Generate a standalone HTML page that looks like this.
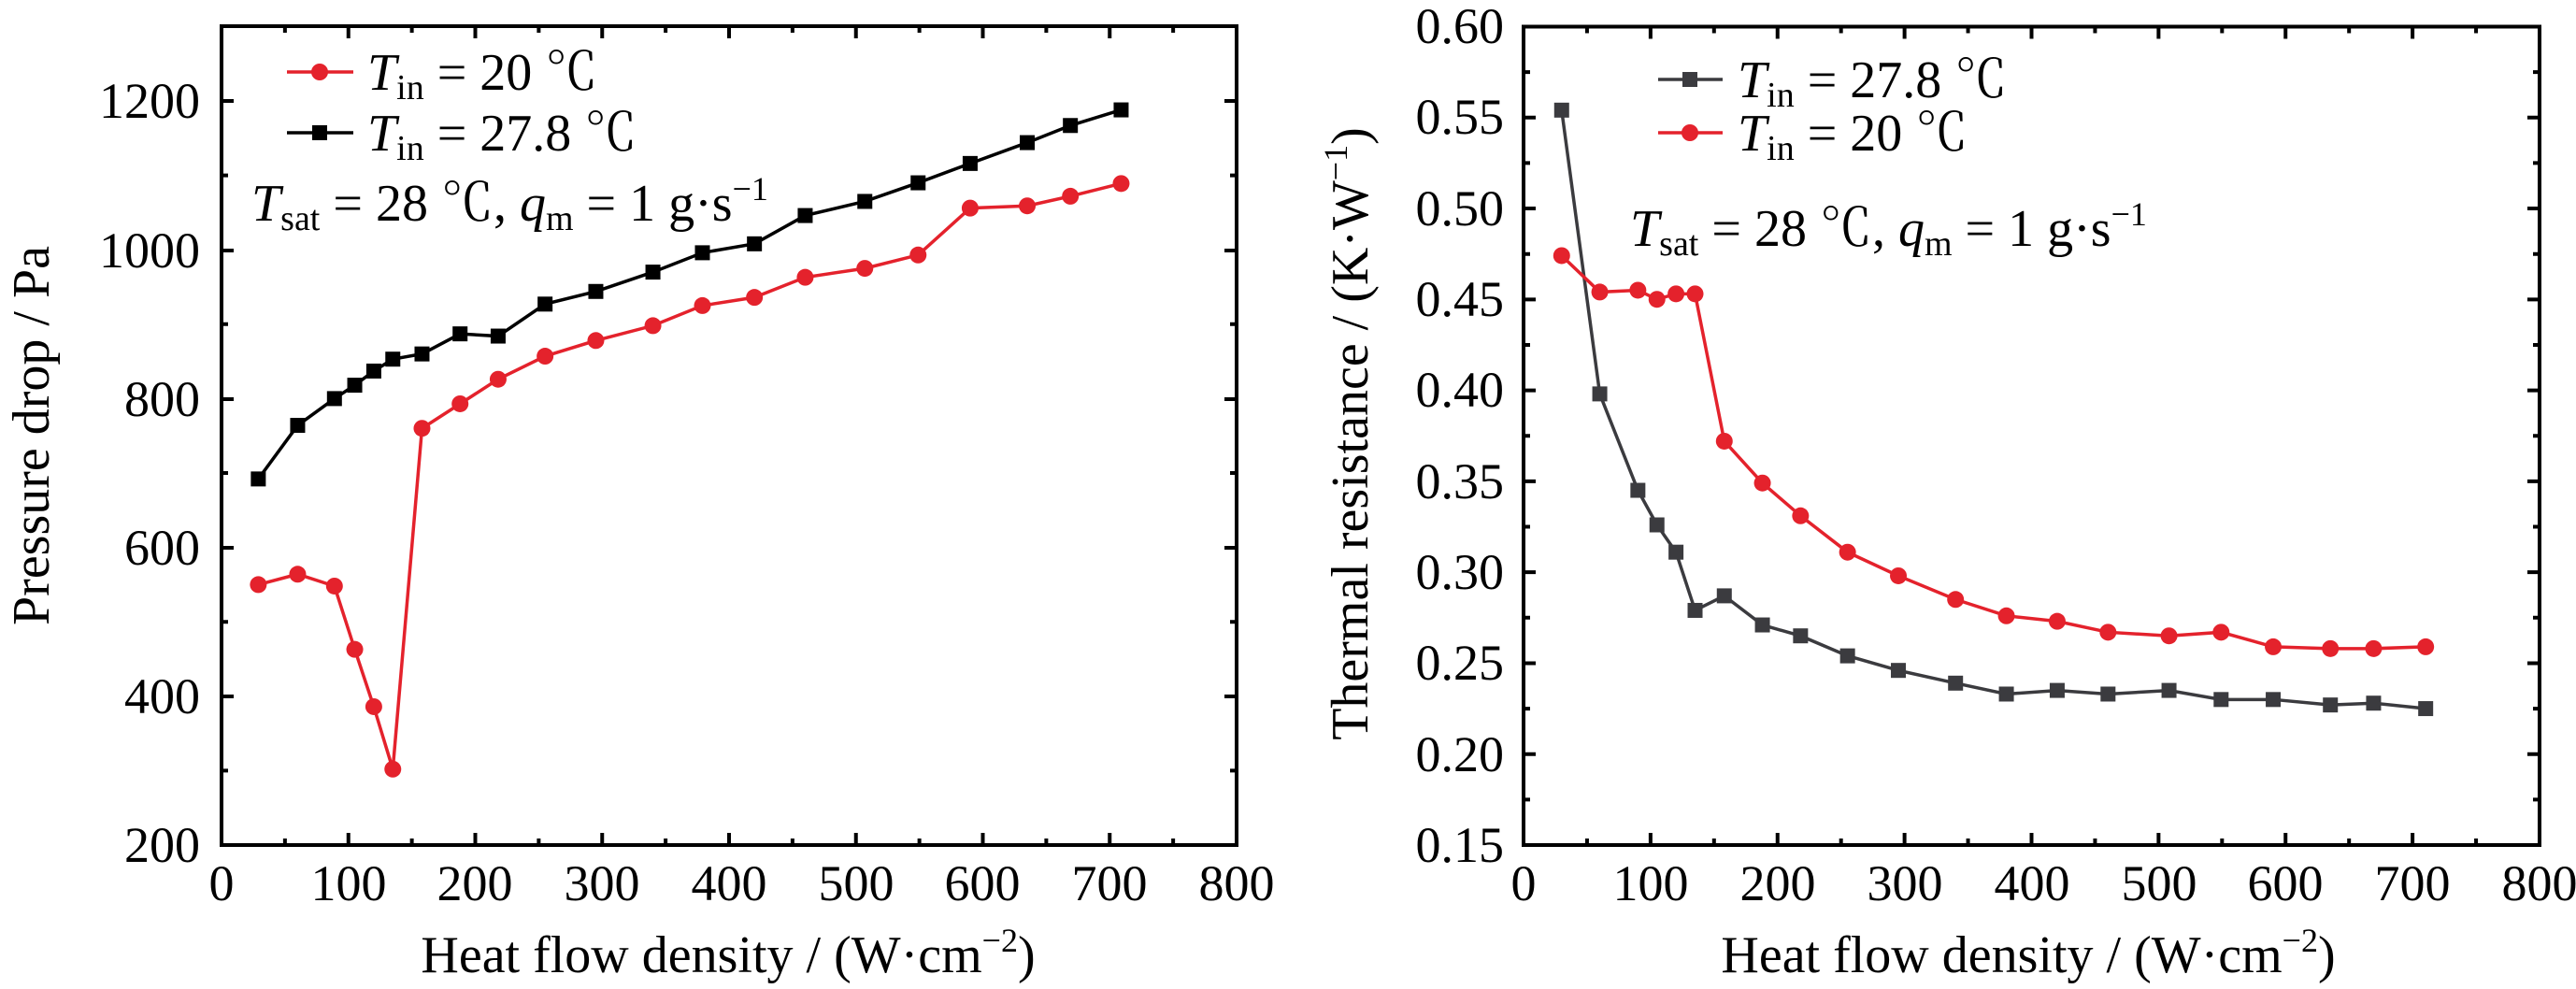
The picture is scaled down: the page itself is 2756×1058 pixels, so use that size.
<!DOCTYPE html>
<html><head><meta charset="utf-8"><style>
html,body{margin:0;padding:0;background:#fff;}
svg{display:block;font-family:"Liberation Serif",serif;}
.c{font-family:"Noto Serif CJK SC","Liberation Serif",serif;}
</style></head><body>
<svg id="s" width="2756" height="1058" viewBox="0 0 2756 1058" xmlns="http://www.w3.org/2000/svg">
<g id="g"></g>
<g font-size="54" fill="#000">
<g text-anchor="middle">
<text x="237" y="963">0</text><text x="373" y="963">100</text><text x="508" y="963">200</text><text x="644" y="963">300</text><text x="780" y="963">400</text><text x="916" y="963">500</text><text x="1051" y="963">600</text><text x="1187" y="963">700</text><text x="1323" y="963">800</text>
<text x="1630" y="963">0</text><text x="1766" y="963">100</text><text x="1902" y="963">200</text><text x="2038" y="963">300</text><text x="2174" y="963">400</text><text x="2310" y="963">500</text><text x="2445" y="963">600</text><text x="2581" y="963">700</text><text x="2717" y="963">800</text>
</g>
<g text-anchor="end">
<text x="214" y="922">200</text><text x="214" y="763">400</text><text x="214" y="604">600</text><text x="214" y="445">800</text><text x="214" y="286">1000</text><text x="214" y="126">1200</text>
<text x="1609" y="922">0.15</text><text x="1609" y="825">0.20</text><text x="1609" y="727">0.25</text><text x="1609" y="630">0.30</text><text x="1609" y="533">0.35</text><text x="1609" y="435">0.40</text><text x="1609" y="338">0.45</text><text x="1609" y="241">0.50</text><text x="1609" y="143">0.55</text><text x="1609" y="46">0.60</text>
</g>
<text x="779" y="1040" text-anchor="middle" font-size="56">Heat flow density / (W·cm<tspan dy="-22" font-size="36">−2</tspan><tspan dy="22">)</tspan></text>
<text x="2170" y="1040" text-anchor="middle" font-size="56">Heat flow density / (W·cm<tspan dy="-22" font-size="36">−2</tspan><tspan dy="22">)</tspan></text>
<text transform="translate(52,466) rotate(-90)" text-anchor="middle" font-size="56">Pressure drop / Pa</text>
<text transform="translate(1463,464) rotate(-90)" text-anchor="middle" font-size="56">Thermal resistance / (K·W<tspan dy="-22" font-size="36">−1</tspan><tspan dy="22">)</tspan></text>
<text x="393" y="96" font-size="56"><tspan font-style="italic">T</tspan><tspan font-size="38" dy="10">in</tspan><tspan dy="-10"> = 20 </tspan><tspan class="c">℃</tspan></text>
<text x="393" y="161" font-size="56"><tspan font-style="italic">T</tspan><tspan font-size="38" dy="10">in</tspan><tspan dy="-10"> = 27.8 </tspan><tspan class="c">℃</tspan></text>
<text x="269" y="236" font-size="56"><tspan font-style="italic">T</tspan><tspan font-size="38" dy="10">sat</tspan><tspan dy="-10"> = 28 </tspan><tspan class="c">℃</tspan><tspan>, </tspan><tspan font-style="italic">q</tspan><tspan font-size="38" dy="10">m</tspan><tspan dy="-10"> = 1 g·s</tspan><tspan font-size="36" dy="-22">−1</tspan></text>
<text x="1859" y="104" font-size="56"><tspan font-style="italic">T</tspan><tspan font-size="38" dy="10">in</tspan><tspan dy="-10"> = 27.8 </tspan><tspan class="c">℃</tspan></text>
<text x="1859" y="161" font-size="56"><tspan font-style="italic">T</tspan><tspan font-size="38" dy="10">in</tspan><tspan dy="-10"> = 20 </tspan><tspan class="c">℃</tspan></text>
<text x="1744" y="263" font-size="56"><tspan font-style="italic">T</tspan><tspan font-size="38" dy="10">sat</tspan><tspan dy="-10"> = 28 </tspan><tspan class="c">℃</tspan><tspan>, </tspan><tspan font-style="italic">q</tspan><tspan font-size="38" dy="10">m</tspan><tspan dy="-10"> = 1 g·s</tspan><tspan font-size="36" dy="-22">−1</tspan></text>
</g>
</svg>
<script>
var NS="http://www.w3.org/2000/svg",g=document.getElementById("g");
function el(t,a){var e=document.createElementNS(NS,t);for(var k in a)e.setAttribute(k,a[k]);g.appendChild(e);return e;}
var RED="#e4222c",BLK="#000",GRY="#3b3b3f";
function frame(x0,x1,y0,y1,xmaj,xmin,ymaj,ymin){
 el("rect",{x:x0,y:y0,width:x1-x0,height:y1-y0,fill:"none",stroke:"#000","stroke-width":4});
 var p="";
 xmaj.forEach(function(x){p+="M"+x+" "+y1+"v-13M"+x+" "+y0+"v13";});
 xmin.forEach(function(x){p+="M"+x+" "+y1+"v-7M"+x+" "+y0+"v7";});
 ymaj.forEach(function(y){p+="M"+x0+" "+y+"h13M"+x1+" "+y+"h-13";});
 ymin.forEach(function(y){p+="M"+x0+" "+y+"h7M"+x1+" "+y+"h-7";});
 el("path",{d:p,stroke:"#000","stroke-width":4,fill:"none"});
}
function rng(a,b,n){var r=[];for(var i=0;i<=n;i++)r.push(a+(b-a)*i/n);return r;}
var LX=function(v){return 237+v*1.3575},LY=function(v){return 904-(v-200)*0.796};
var xm=rng(237,1323,8),xn=rng(237,1323,16).filter(function(_,i){return i%2});
frame(237,1323,28,904,xm,xn,[904,745,586,427,268,108],[824.4,665.2,506,346.8,187.6]);
var RX=function(v){return 1630+v*1.3594},RY=function(v){return 904-(v-0.15)*1946};
var xm2=rng(1630,2717,8),xn2=rng(1630,2717,16).filter(function(_,i){return i%2});
var ym2=rng(904,28.5,9),yn2=rng(904,28.5,18).filter(function(_,i){return i%2});
frame(1630,2717,28.5,904,xm2,xn2,ym2,yn2);
function series(xs,ys,FX,FY,col,mk){
 var pts=xs.map(function(x,i){return FX(x)+","+FY(ys[i]);}).join(" ");
 el("polyline",{points:pts,fill:"none",stroke:col,"stroke-width":3.5});
 xs.forEach(function(x,i){var X=FX(x),Y=FY(ys[i]);
  if(mk=="c")el("circle",{cx:X,cy:Y,r:9,fill:col});else el("rect",{x:X-8,y:Y-8,width:16,height:16,fill:col});});
}
var xl=[29,60,89,105,120,135,158,188,218,255,295,340,379,420,460,507,549,590,635,669,709];
series(xl,[692,764,800,818,837,853,860,887,884,927,944,970,996,1008,1046,1065,1090,1116,1144,1167,1188],LX,LY,BLK,"s");
series(xl,[550,564,548,463,386,302,760,793,826,857,878,898,925,936,963,975,993,1056,1059,1072,1089],LX,LY,RED,"c");
var xr=[30,60,90,105,120,135,158,188,218,255,295,340,380,420,460,508,549,590,635,669,710];
series(xr,[.554,.398,.345,.326,.311,.279,.287,.271,.265,.254,.246,.239,.233,.235,.233,.235,.230,.230,.227,.228,.225],RX,RY,GRY,"s");
series(xr,[.474,.454,.455,.450,.453,.453,.372,.349,.331,.311,.298,.285,.276,.273,.267,.265,.267,.259,.258,.258,.259],RX,RY,RED,"c");
el("line",{x1:307,y1:77,x2:378,y2:77,stroke:RED,"stroke-width":3.5});el("circle",{cx:342,cy:77,r:9,fill:RED});
el("line",{x1:307,y1:142,x2:378,y2:142,stroke:BLK,"stroke-width":3.5});el("rect",{x:334,y:134,width:16,height:16,fill:BLK});
el("line",{x1:1774,y1:85,x2:1843,y2:85,stroke:GRY,"stroke-width":3.5});el("rect",{x:1800,y:77,width:16,height:16,fill:GRY});
el("line",{x1:1774,y1:142,x2:1843,y2:142,stroke:RED,"stroke-width":3.5});el("circle",{cx:1808,cy:142,r:9,fill:RED});
</script>
</body></html>
